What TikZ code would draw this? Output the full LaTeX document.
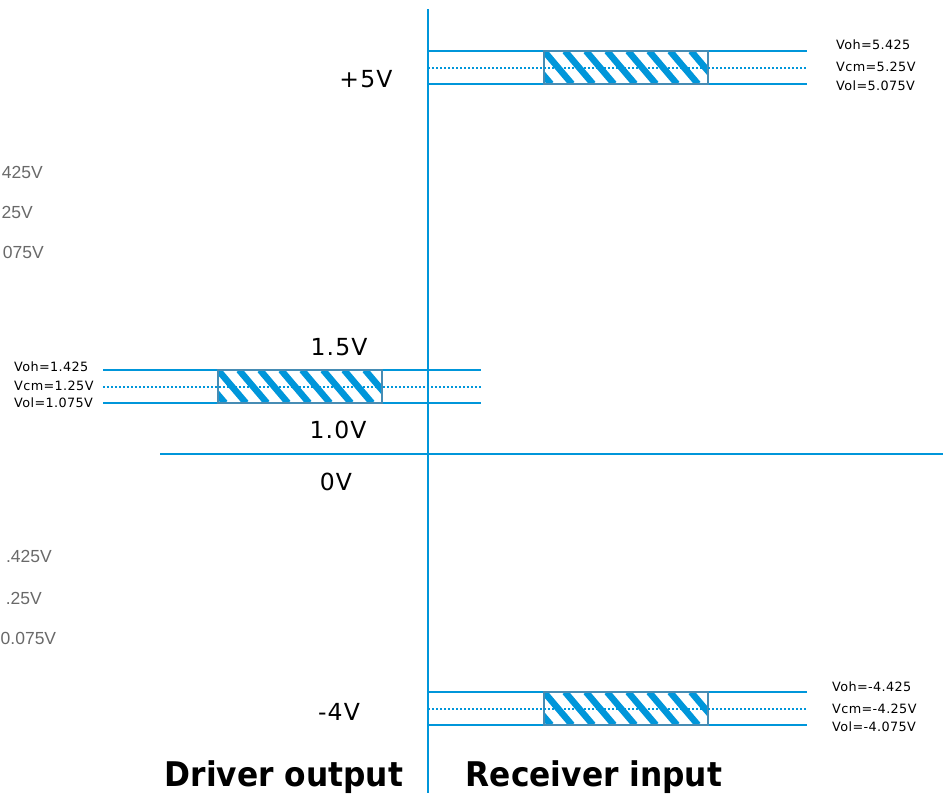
\documentclass[tikz,border=0pt]{standalone}
\usepackage{fontspec}
\setmainfont{DejaVu Sans}
\newfontfamily\lblfont[LetterSpace=5]{DejaVu Sans}
\newfontfamily\smlfont[LetterSpace=3]{DejaVu Sans}
\newfontfamily\ghostfont{Liberation Sans}
\newfontfamily\titlefont[FakeStretch=0.92]{DejaVu Sans Bold}
\definecolor{lb}{RGB}{0,150,218}
\definecolor{bx}{RGB}{70,140,180}
\definecolor{gh}{RGB}{105,105,105}
\tikzset{
  band/.style={draw=lb, line width=2pt},
  cmline/.style={draw=lb, line width=2pt, dash pattern=on 2pt off 2pt},
  axisline/.style={draw=lb, line width=2.2pt},
  volt/.style={font=\lblfont\fontsize{23.5}{24}\selectfont, inner sep=0pt, anchor=center},
  small/.style={font=\smlfont\fontsize{12.8}{13}\selectfont, anchor=west, inner sep=0pt},
  ghost/.style={font=\ghostfont\fontsize{17.5}{18}\selectfont, text=gh, anchor=east, inner sep=0pt},
  titletext/.style={font=\titlefont\fontsize{34}{34}\selectfont, inner sep=0pt, anchor=base},
  hatchbox/.style={draw=bx, line width=1.5pt, minimum width=164pt, minimum height=33pt,
    inner sep=0pt, outer sep=0pt,
    path picture={
      \foreach \i in {-2,...,9}
        \draw[lb, line width=6.5pt] ([xshift=\i*21pt]path picture bounding box.north west) -- ++(28pt,-33pt);
    }},
}
\begin{document}
\begin{tikzpicture}[x=1pt,y=-1pt]
\useasboundingbox (0,0) rectangle (943,793);

% partly visible texts at the left edge
\node[ghost] (g1) at (43,172) {425V};
\node[ghost] (g2) at (33,212) {25V};
\node[ghost] (g3) at (44,252) {075V};
\node[ghost] (g4) at (52,556) {.425V};
\node[ghost] (g5) at (42,598) {.25V};
\node[ghost, anchor=west] (g6) at (0.5,638) {0.075V};

% axes
\coordinate (vtop) at (428,9);
\coordinate (vbot) at (428,793);
\coordinate (hl) at (160,454);
\coordinate (hr) at (943,454);
\draw[axisline] (vtop) -- (vbot);
\draw[lb, line width=2pt] (hl) -- (hr);

% top band (+5V)
\coordinate (t1) at (428,51);  \coordinate (t2) at (807,51);
\coordinate (t3) at (428,67.5);\coordinate (t4) at (807,67.5);
\coordinate (t5) at (428,84);  \coordinate (t6) at (807,84);
\draw[band] (t1) -- (t2);
\draw[band] (t5) -- (t6);
\node[hatchbox] (boxtop) at (626,67.5) {};
\draw[cmline] (t3) -- (t4);

% middle band (1.25V)
\coordinate (m1) at (103,370);  \coordinate (m2) at (481,370);
\coordinate (m3) at (103,386.5);\coordinate (m4) at (481,386.5);
\coordinate (m5) at (103,403);  \coordinate (m6) at (481,403);
\draw[band] (m1) -- (m2);
\draw[band] (m5) -- (m6);
\node[hatchbox] (boxmid) at (300,386.5) {};
\draw[cmline] (m3) -- (m4);

% bottom band (-4V)
\coordinate (b1) at (428,692);  \coordinate (b2) at (807,692);
\coordinate (b3) at (428,708.5);\coordinate (b4) at (807,708.5);
\coordinate (b5) at (428,725);  \coordinate (b6) at (807,725);
\draw[band] (b1) -- (b2);
\draw[band] (b5) -- (b6);
\node[hatchbox] (boxbot) at (626,708.5) {};
\draw[cmline] (b3) -- (b4);

% voltage labels
\node[volt] (p5) at (366,79) {+5V};
\node[volt] (v15) at (339,347) {1.5V};
\node[volt] (v10) at (338,430) {1.0V};
\node[volt] (v0) at (336,482) {0V};
\node[volt] (m4v) at (339,712) {-4V};

% small labels
\node[small] (toh) at (836,45) {Voh=5.425};
\node[small] (tcm) at (836,67) {Vcm=5.25V};
\node[small] (tol) at (836,86) {Vol=5.075V};
\node[small] (moh) at (14,367) {Voh=1.425};
\node[small] (mcm) at (14,386) {Vcm=1.25V};
\node[small] (mol) at (14,403) {Vol=1.075V};
\node[small] (boh) at (832,687) {Voh=-4.425};
\node[small] (bcm) at (832,709) {Vcm=-4.25V};
\node[small] (bol) at (832,727) {Vol=-4.075V};

% titles
\node[titletext] (drv) at (284,786) {Driver output};
\node[titletext] (rcv) at (594,786) {Receiver input};
\end{tikzpicture}
\end{document}
